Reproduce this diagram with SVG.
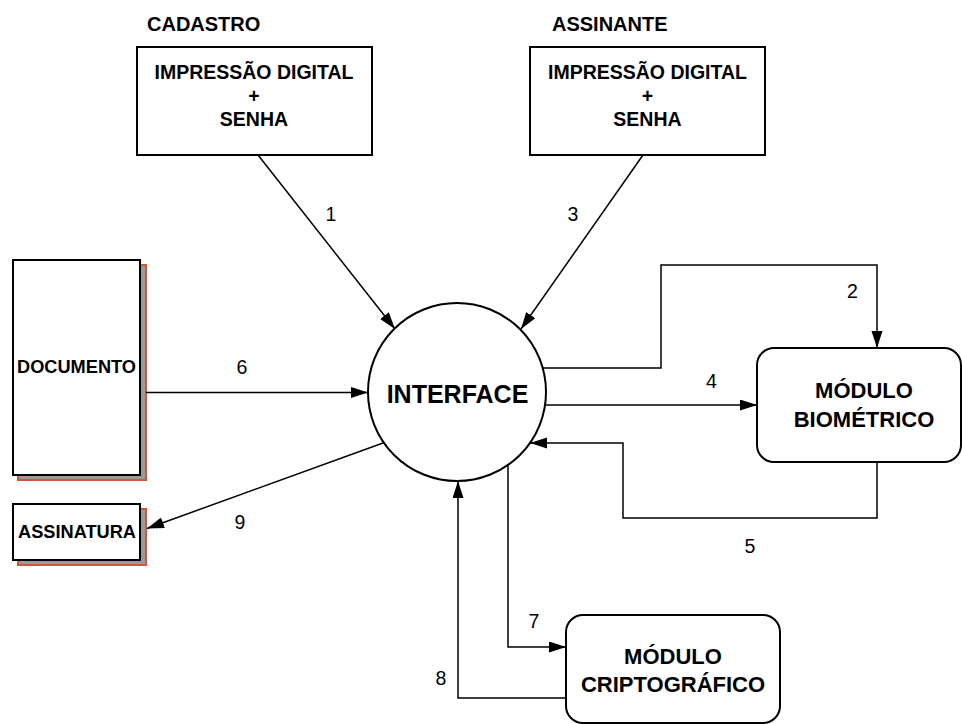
<svg xmlns="http://www.w3.org/2000/svg" width="962" height="724" viewBox="0 0 962 724">
  <style>
    text { font-family: "Liberation Sans", Arial, sans-serif; fill: #000; }
    .b { font-weight: bold; }
    .title { font-size: 20px; font-weight: bold; }
    .t19 { font-size: 19.5px; }
    .t18 { font-size: 18.2px; }
    .t22 { font-size: 22px; }
    .num { font-size: 19.5px; text-anchor: middle; }
    .mid { text-anchor: middle; }
    .box { fill: #fff; stroke: #000; stroke-width: 2; }
    .shadow { fill: #9a9a9a; stroke: #d9533b; stroke-width: 2; }
    .wire { fill: none; stroke: #000; stroke-width: 1.5; }
  </style>
  <defs>
    <marker id="arrow" markerUnits="userSpaceOnUse" markerWidth="18" markerHeight="12" refX="17" refY="5.5" orient="auto">
      <path d="M0,0 L17,5.5 L0,11 z" fill="#000"/>
    </marker>
  </defs>

  <rect width="962" height="724" fill="#fff"/>

  <!-- sources -->
  <g id="cadastro">
    <text class="title" x="147" y="31">CADASTRO</text>
    <rect class="box" x="137" y="47" width="235" height="108"/>
    <text class="b t19 mid" x="254" y="79">IMPRESSÃO DIGITAL</text>
    <text class="b t19 mid" x="254" y="102.5">+</text>
    <text class="b t19 mid" x="254" y="126">SENHA</text>
  </g>

  <g id="assinante">
    <text class="title" x="552" y="31">ASSINANTE</text>
    <rect class="box" x="530" y="47" width="235" height="108"/>
    <text class="b t19 mid" x="647.5" y="79">IMPRESSÃO DIGITAL</text>
    <text class="b t19 mid" x="647.5" y="102.5">+</text>
    <text class="b t19 mid" x="647.5" y="126">SENHA</text>
  </g>

  <g id="documento">
    <rect class="shadow" x="18" y="265" width="128" height="215"/>
    <rect class="box" x="13" y="260" width="127" height="215"/>
    <text class="b t18 mid" x="76.5" y="373">DOCUMENTO</text>
  </g>

  <g id="assinatura">
    <rect class="shadow" x="18" y="509" width="128" height="56"/>
    <rect class="box" x="13" y="504" width="127" height="56"/>
    <text class="b t18 mid" x="77" y="538">ASSINATURA</text>
  </g>

  <g id="interface">
    <circle class="box" cx="457" cy="392" r="89"/>
    <text class="b mid" x="457.5" y="403" font-size="25">INTERFACE</text>
  </g>

  <g id="modulo-biometrico">
    <rect class="box" x="757" y="348" width="204" height="114" rx="17" ry="17"/>
    <text class="b t22 mid" x="864" y="398">MÓDULO</text>
    <text class="b t22 mid" x="864" y="427">BIOMÉTRICO</text>
  </g>

  <g id="modulo-criptografico">
    <rect class="box" x="566" y="615" width="214" height="108" rx="17" ry="17"/>
    <text class="b t22 mid" x="673" y="664">MÓDULO</text>
    <text class="b t22 mid" x="673" y="692">CRIPTOGRÁFICO</text>
  </g>

  <!-- flows -->
  <g id="connectors">
    <line class="wire" x1="258" y1="155" x2="395" y2="329" marker-end="url(#arrow)"/>
    <line class="wire" x1="643" y1="155" x2="521" y2="329" marker-end="url(#arrow)"/>
    <polyline class="wire" points="543,368 661,368 661,265 877,265 877,348" marker-end="url(#arrow)"/>
    <line class="wire" x1="545" y1="405" x2="757" y2="405" marker-end="url(#arrow)"/>
    <polyline class="wire" points="877,462 877,518 623,518 623,443 530,443" marker-end="url(#arrow)"/>
    <line class="wire" x1="146" y1="392.5" x2="368" y2="392.5" marker-end="url(#arrow)"/>
    <polyline class="wire" points="508,465 508,647 566,647" marker-end="url(#arrow)"/>
    <polyline class="wire" points="566,698 458,698 458,481" marker-end="url(#arrow)"/>
    <line class="wire" x1="383" y1="443" x2="147" y2="528.5" marker-end="url(#arrow)"/>

    <text class="num" x="331" y="221">1</text>
    <text class="num" x="852.5" y="298">2</text>
    <text class="num" x="573" y="221">3</text>
    <text class="num" x="711.5" y="388">4</text>
    <text class="num" x="750" y="553">5</text>
    <text class="num" x="242" y="374">6</text>
    <text class="num" x="534" y="628">7</text>
    <text class="num" x="441" y="685">8</text>
    <text class="num" x="240" y="529">9</text>
  </g>
</svg>
